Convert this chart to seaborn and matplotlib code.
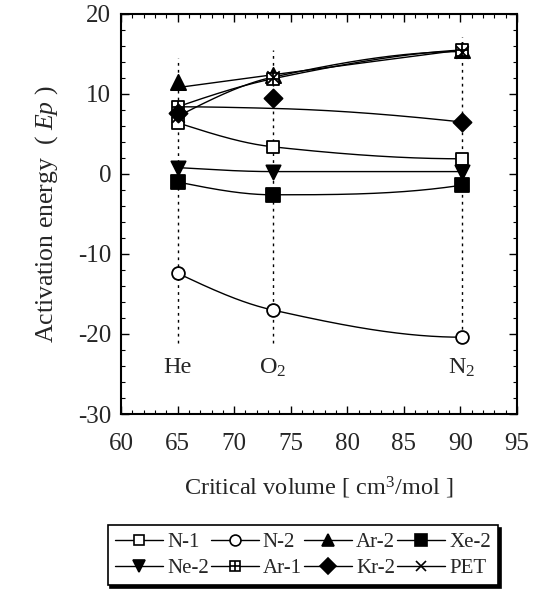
import numpy as np
import pandas as pd
import matplotlib
matplotlib.use("Agg")
import matplotlib.pyplot as plt
from matplotlib.lines import Line2D
from matplotlib.ticker import MultipleLocator
import seaborn as sns

# Critical volume of each permeant gas [cm3/mol]
gases = ["He", "O$_2$", "N$_2$"]
crit_volume = [65.0, 73.4, 90.1]

# Activation energy Ep for each membrane (He, O2, N2)
series = ["N-1", "N-2", "Ar-2", "Xe-2", "Ne-2", "Ar-1", "Kr-2", "PET"]
ep_n1 = [6.4, 3.4, 1.9]
ep_n2 = [-12.4, -17.0, -20.4]
ep_ar2 = [11.5, 12.4, 15.5]
ep_xe2 = [-1.0, -2.6, -1.4]
ep_ne2 = [0.8, 0.3, 0.3]
ep_ar1 = [8.4, 11.9, 15.5]
ep_kr2 = [7.6, 9.5, 6.5]
ep_pet = [7.2, 12.1, 15.3]

# Trend curves drawn through each data set (values at He, O2, N2)
trend_ar2 = [10.8, 12.4, 15.5]
trend_kr2 = [8.4, 8.2, 6.5]

values = dict(zip(series, [ep_n1, ep_n2, ep_ar2, ep_xe2, ep_ne2, ep_ar1, ep_kr2, ep_pet]))
trends = dict(values)
trends["Ar-2"] = trend_ar2
trends["Kr-2"] = trend_kr2

# Extent of the dotted guide lines above each gas
guide_top = [14.5, 15.5, 17.1]
guide_bottom = [-21.1, -21.1, -21.1]
label_y = -24.2

SERIF = "Liberation Serif"
sns.set_theme(style="ticks")
plt.rcParams["font.family"] = "serif"
plt.rcParams["font.serif"] = [SERIF, "DejaVu Serif"]
plt.rcParams["mathtext.fontset"] = "custom"
plt.rcParams["mathtext.rm"] = SERIF
plt.rcParams["mathtext.it"] = SERIF + ":italic"


def pchip(xk, yk, xs):
    """Monotone piecewise cubic (Fritsch-Carlson) through the given knots."""
    xk = np.asarray(xk, float)
    yk = np.asarray(yk, float)
    h = np.diff(xk)
    d = np.diff(yk) / h
    m = np.zeros_like(yk)
    for i in range(1, len(xk) - 1):
        if d[i - 1] * d[i] > 0:
            w1 = 2 * h[i] + h[i - 1]
            w2 = h[i] + 2 * h[i - 1]
            m[i] = (w1 + w2) / (w1 / d[i - 1] + w2 / d[i])
    for end, (hh, dd) in ((0, (h, d)), (-1, (h[::-1], d[::-1]))):
        e = ((2 * hh[0] + hh[1]) * dd[0] - hh[0] * dd[1]) / (hh[0] + hh[1])
        if np.sign(e) != np.sign(dd[0]):
            e = 0.0
        elif np.sign(dd[0]) != np.sign(dd[1]) and abs(e) > abs(3 * dd[0]):
            e = 3 * dd[0]
        m[end] = e
    out = np.empty_like(xs)
    idx = np.clip(np.searchsorted(xk, xs) - 1, 0, len(xk) - 2)
    for j, xv in enumerate(xs):
        i = idx[j]
        t = (xv - xk[i]) / h[i]
        h00 = 2 * t**3 - 3 * t**2 + 1
        h10 = t**3 - 2 * t**2 + t
        h01 = -2 * t**3 + 3 * t**2
        h11 = t**3 - t**2
        out[j] = h00 * yk[i] + h10 * h[i] * m[i] + h01 * yk[i + 1] + h11 * h[i] * m[i + 1]
    return out


fig = plt.figure(figsize=(5.36, 5.90), dpi=100)
ax = fig.add_axes([0.2257, 0.2983, 0.739, 0.678])

# Smooth trend curves
xs = np.linspace(crit_volume[0], crit_volume[-1], 150)
frames = []
for name in series:
    frames.append(pd.DataFrame({"series": name, "Vc": xs,
                                "Ep": pchip(crit_volume, trends[name], xs)}))
curves = pd.concat(frames, ignore_index=True)
sns.lineplot(data=curves, x="Vc", y="Ep", units="series", estimator=None,
             color="black", lw=1.0, ax=ax, legend=False, zorder=2)

# Dotted guides and gas names
ax.vlines(crit_volume, guide_bottom, guide_top, colors="black",
          linestyles=(0, (2, 3)), lw=1.0, zorder=1)
for g, xv in zip(gases, crit_volume):
    ax.text(xv, label_y, g, ha="center", va="center", fontsize=17.5, family=SERIF)

marker_style = {
    "N-1": dict(marker="s", facecolor="white", s=85),
    "N-2": dict(marker="o", facecolor="white", s=85),
    "Ar-2": dict(marker="^", facecolor="black", s=120),
    "Xe-2": dict(marker="s", facecolor="black", s=95),
    "Ne-2": dict(marker="v", facecolor="black", s=105),
    "Ar-1": dict(marker="s", facecolor="white", s=85),
    "Kr-2": dict(marker="D", facecolor="black", s=85),
    "PET": dict(marker="x", facecolor="black", s=80),
}

pts = pd.DataFrame([{"series": n, "Vc": xv, "Ep": yv}
                    for n in series for xv, yv in zip(crit_volume, values[n])])
for name in series:
    st = marker_style[name]
    sub = pts[pts["series"] == name]
    sns.scatterplot(data=sub, x="Vc", y="Ep", marker=st["marker"], s=st["s"],
                    color=st["facecolor"], edgecolor="black", linewidth=1.3,
                    ax=ax, legend=False, zorder=3)
    if name == "Ar-1":
        sns.scatterplot(data=sub, x="Vc", y="Ep", marker="+", s=85,
                        color="black", linewidth=1.3, ax=ax, legend=False, zorder=4)

ax.set_xlim(60, 95)
ax.set_ylim(-30, 20)
ax.xaxis.set_minor_locator(MultipleLocator(1))
ax.yaxis.set_minor_locator(MultipleLocator(2))
ax.tick_params(which="both", direction="in", top=True, right=True, color="black")
ax.tick_params(which="major", length=6, width=1.0, labelsize=18)
ax.tick_params(which="minor", length=3, width=0.8)
ax.tick_params(axis="x", pad=14)
ax.tick_params(axis="y", pad=7)
for sp in ax.spines.values():
    sp.set_linewidth(1.5)
    sp.set_color("black")
yticks = [20, 10, 0, -10, -20, -30]
ax.set_yticks(yticks)
ax.set_yticklabels([str(v) for v in yticks])
xticks = [60, 65, 70, 75, 80, 85, 90, 95]
ax.set_xticks(xticks)
ax.set_xticklabels([str(v) for v in xticks])
for lab in ax.get_xticklabels() + ax.get_yticklabels():
    lab.set_family(SERIF)

ax.set_xlabel("Critical volume [ cm$^3$/mol ]", fontsize=17.5, labelpad=14, family=SERIF)
ax.set_ylabel("Activation energy  ( $Ep$ )", fontsize=18.5, labelpad=13, family=SERIF)


# Legend
def handle(name):
    st = marker_style[name]
    ms = np.sqrt(st["s"])
    base = Line2D([], [], color="black", lw=1.0, marker=st["marker"],
                  markerfacecolor=st["facecolor"], markeredgecolor="black",
                  markeredgewidth=1.2, markersize=ms * 0.85)
    if name == "Ar-1":
        plus = Line2D([], [], color="black", lw=0, marker="+", markersize=ms * 0.85,
                      markeredgewidth=1.2)
        return (base, plus)
    return base


# matplotlib fills legend columns first; reorder so entries read row by row
ncol = 4
nrow = 2
order = [r * ncol + c for c in range(ncol) for r in range(nrow)]
leg = fig.legend([handle(series[i]) for i in order], [series[i] for i in order],
                 ncol=ncol, loc="center", bbox_to_anchor=(0.565, 0.059),
                 prop={"family": SERIF, "size": 15},
                 frameon=True, fancybox=False, edgecolor="black",
                 shadow={"color": "black", "alpha": 1.0}, handlelength=2.3,
                 handletextpad=0.2, columnspacing=0.1, borderpad=0.35,
                 labelspacing=0.3, borderaxespad=0)
leg.get_frame().set_linewidth(1.2)

fig.savefig("out.png", dpi=100)
